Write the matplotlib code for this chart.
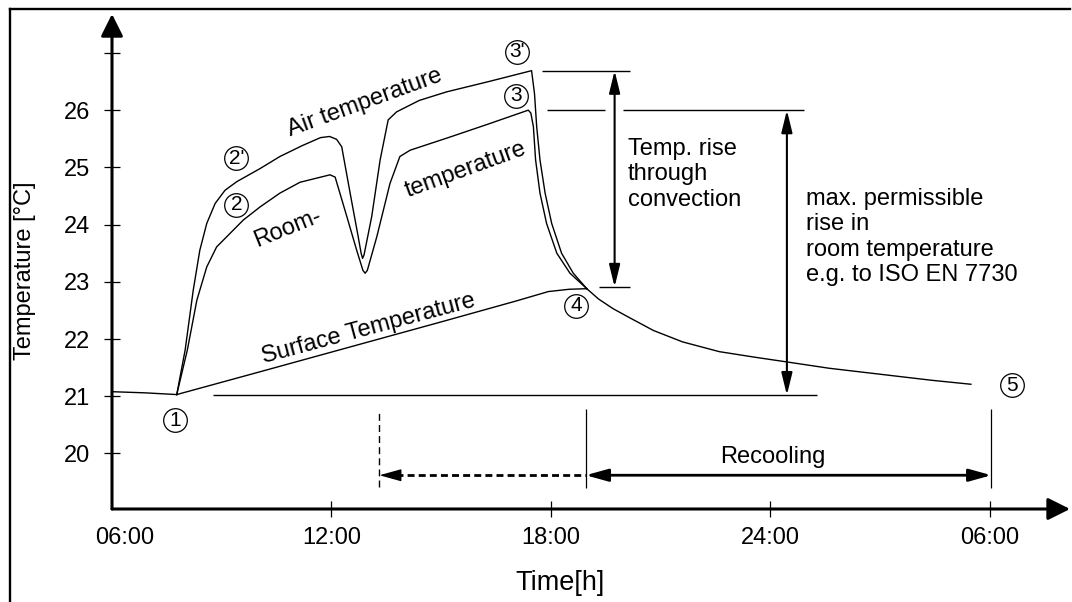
import matplotlib.pyplot as plt
from matplotlib.lines import Line2D

plt.rcParams['font.family'] = ['Liberation Sans', 'DejaVu Sans']

# time in hours (6 = 06:00, 30 = 06:00 next morning), temperatures in degC
start_t = [6.0, 6.9, 7.77]
start_v = [21.08, 21.06, 21.03]

air_t = [7.77, 8.0, 8.22, 8.40, 8.59, 8.82, 9.09, 9.41, 10.05, 10.59, 11.2, 11.7, 11.95,
         12.14, 12.28, 12.51, 12.73, 12.81, 12.85, 12.89, 13.10, 13.33, 13.55, 13.78,
         14.4, 15.15, 16.3, 17.47, 17.55, 17.61, 17.70, 17.84, 18.02, 18.29, 18.61, 18.98]
air_v = [21.03, 21.81, 22.85, 23.55, 24.02, 24.37, 24.60, 24.75, 24.98, 25.19, 25.38, 25.52, 25.54,
         25.49, 25.36, 24.55, 23.79, 23.50, 23.41, 23.47, 24.14, 25.13, 25.83, 25.97,
         26.17, 26.32, 26.50, 26.69, 26.29, 25.71, 25.13, 24.55, 24.02, 23.50, 23.15, 22.88]

room_t = [7.77, 8.06, 8.32, 8.59, 8.86, 9.14, 9.59, 10.05, 10.59, 11.14, 11.96, 12.10,
          12.42, 12.69, 12.86, 12.92, 12.98, 13.24, 13.60, 13.87, 14.15, 15.24, 16.3,
          17.38, 17.45, 17.52, 17.58, 17.70, 17.88, 18.16, 18.52, 18.98]
room_v = [21.03, 21.81, 22.68, 23.26, 23.61, 23.79, 24.08, 24.31, 24.55, 24.74, 24.87, 24.83,
          24.14, 23.55, 23.20, 23.15, 23.20, 23.79, 24.72, 25.19, 25.30, 25.53, 25.76,
          26.0, 25.95, 25.71, 25.13, 24.55, 24.02, 23.50, 23.15, 22.88]

surf_t = [7.77, 10.0, 12.5, 15.0, 17.02, 17.93, 18.5, 18.98]
surf_v = [21.03, 21.42, 21.86, 22.30, 22.66, 22.83, 22.87, 22.88]

cool_t = [18.98, 19.3, 19.7, 20.1, 20.8, 21.6, 22.6, 23.6, 24.45, 25.6, 27.2, 28.4, 29.48]
cool_v = [22.88, 22.70, 22.53, 22.39, 22.15, 21.95, 21.78, 21.68, 21.60, 21.49, 21.37, 21.28, 21.21]

yticks = [20, 21, 22, 23, 24, 25, 26, 27]
ylabels = ['20', '21', '22', '23', '24', '25', '26', '']
xticks = [12, 18, 24, 30]
xlab_t = [6.36, 12, 18, 24, 30]
xlabels = ['06:00', '12:00', '18:00', '24:00', '06:00']

# circled point numbers
pt_txt = ['1', '2', "2'", '3', "3'", '4', '5']
pt_t = [7.72, 9.40, 9.40, 17.05, 17.07, 18.69, 30.6]
pt_v = [20.58, 24.35, 25.16, 26.25, 27.02, 22.58, 21.19]

# curve names along the lines
lab_txt = ['Air temperature', 'Room-', 'temperature', 'Surface Temperature']
lab_t = [12.9, 10.8, 15.67, 13.0]
lab_v = [26.12, 23.94, 24.96, 22.17]
lab_rot = [20, 22, 20, 15]

# reference levels / times for the brackets
air_max = 26.69
room_max = 26.0
pt4_level = 22.91
base_level = 21.02
t_conv = 19.74
t_perm = 24.45
t_off = 13.31
t_cool0 = 18.95
t_cool1 = 30.04
y_cool = 19.62
y_origin = 19.03

fig = plt.figure(figsize=(10.72, 6.02), dpi=100)
ax = fig.add_axes([112 / 1072, 93 / 602, 960 / 1072, 509 / 602])
ax.set_xlim(6, 32.244)
ax.set_ylim(y_origin, 27.925)
for s in ax.spines.values():
    s.set_visible(False)

lw = 1.0
ax.plot(start_t, start_v, color='k', lw=lw)
ax.plot(air_t, air_v, color='k', lw=lw)
ax.plot(room_t, room_v, color='k', lw=lw)
ax.plot(surf_t, surf_v, color='k', lw=lw)
ax.plot(cool_t, cool_v, color='k', lw=lw)

# axes with arrows
head = dict(arrowstyle='-|>,head_length=0.9,head_width=0.45', lw=2.2, color='k',
            mutation_scale=15, shrinkA=0, shrinkB=0)
ax.annotate('', xy=(32.19, y_origin), xytext=(6, y_origin), arrowprops=head,
            annotation_clip=False)
ax.annotate('', xy=(6, 27.68), xytext=(6, y_origin), arrowprops=head,
            annotation_clip=False)

ax.set_yticks(yticks, ylabels)
ax.set_xticks(xticks, [''] * len(xticks))
ax.tick_params(direction='inout', length=11, width=0.9, labelsize=17, pad=10.3)
for t, s in zip(xlab_t, xlabels):
    ax.text(t, 18.52, s, ha='center', va='center', fontsize=17, clip_on=False)

ax.set_ylabel('Temperature [°C]', fontsize=17, va='center')
ax.yaxis.set_label_coords((25 - 112) / 960, (509 - 271) / 509)
ax.text(18.24, 17.73, 'Time[h]', ha='center', va='center', fontsize=19.5, clip_on=False)

# circled numbers
ax.plot(pt_t, pt_v, 'o', ms=17, mfc='none', mec='k', mew=0.9, clip_on=False)
for s, t, v in zip(pt_txt, pt_t, pt_v):
    ax.text(t, v, s, ha='center', va='center', fontsize=15)

for s, t, v, r in zip(lab_txt, lab_t, lab_v, lab_rot):
    ax.text(t, v, s, ha='center', va='center', fontsize=17, rotation=r,
            rotation_mode='anchor')

# reference lines
hl = 1.0
ax.hlines(air_max, 17.75, 20.15, color='k', lw=hl)
ax.hlines(room_max, 17.88, 19.48, color='k', lw=hl)
ax.hlines(room_max, 19.98, 24.93, color='k', lw=hl)
ax.hlines(pt4_level, 19.3, 20.15, color='k', lw=hl)
ax.hlines(base_level, 8.77, 25.27, color='k', lw=hl)

dbl = dict(arrowstyle='<|-|>,head_length=0.9,head_width=0.22', lw=1.5, color='k',
           mutation_scale=15, shrinkA=0, shrinkB=0)
ax.annotate('', xy=(t_conv, air_max), xytext=(t_conv, pt4_level), arrowprops=dbl)
ax.annotate('', xy=(t_perm, room_max), xytext=(t_perm, base_level), arrowprops=dbl)

ax.text(20.1, 24.88, 'Temp. rise\nthrough\nconvection', ha='left', va='center',
        fontsize=17, linespacing=1.2)
ax.text(24.98, 23.78, 'max. permissible\nrise in\nroom temperature\ne.g. to ISO EN 7730',
        ha='left', va='center', fontsize=17, linespacing=1.2)

# recooling period
ax.vlines([t_cool0, t_cool1], 19.40, 20.78, color='k', lw=0.9)
ax.vlines(t_off, 19.41, 20.76, color='k', lw=1.0, linestyles=(0, (5, 3)))
rc = dict(arrowstyle='<|-|>,head_length=0.9,head_width=0.25', lw=2.0, color='k',
          mutation_scale=15, shrinkA=0, shrinkB=0)
ax.annotate('', xy=(t_cool0, y_cool), xytext=(t_cool1, y_cool), arrowprops=rc)
ax.plot([t_off + 0.45, t_cool0], [y_cool, y_cool], color='k', lw=2.0, ls=(0, (2.5, 1.5)))
ax.annotate('', xy=(t_off, y_cool), xytext=(t_off + 0.5, y_cool),
            arrowprops=dict(arrowstyle='-|>,head_length=0.9,head_width=0.25', lw=1.0,
                            color='k', mutation_scale=15, shrinkA=0, shrinkB=0))
ax.text(24.06, 19.94, 'Recooling', ha='center', va='center', fontsize=17)

# frame of the picture
fig.add_artist(Line2D([10 / 1072, 10 / 1072], [0, 1 - 9 / 602], color='k', lw=1.7,
                      transform=fig.transFigure))
fig.add_artist(Line2D([10 / 1072, 1070 / 1072], [1 - 9 / 602, 1 - 9 / 602], color='k',
                      lw=1.7, transform=fig.transFigure))

fig.savefig('out.png', dpi=100)
